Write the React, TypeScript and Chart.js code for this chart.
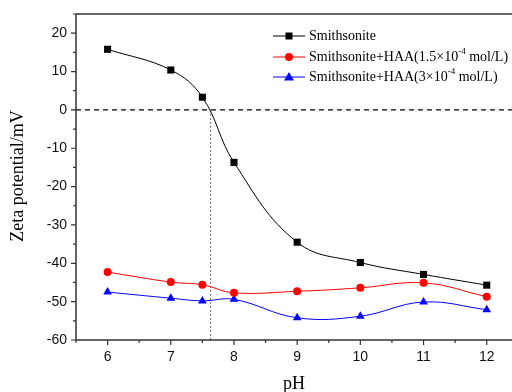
import React, { useEffect, useRef } from "react";
import { Chart, registerables } from "chart.js";

Chart.register(...registerables);

const phValues = [6, 7, 7.5, 8, 9, 10, 11, 12];
const smithsonite = [15.8, 10.4, 3.3, -13.7, -34.5, -39.8, -42.9, -45.7];
const haaLow = [-42.3, -44.9, -45.6, -47.7, -47.3, -46.4, -45.1, -48.7];
const haaHigh = [-47.5, -49.1, -49.8, -49.4, -54.2, -53.8, -50.1, -52.1];
const seriesNames = ["Smithsonite", "Smithsonite+HAA(1.5×10", "Smithsonite+HAA(3×10"];
const seriesColors = ["#000000", "#ff0000", "#0000ff"];
const seriesPoints = ["rect", "circle", "triangle"];
const seriesRadius = [5, 4, 5];
const iepValue = 7.63;
const xTitle = "pH";
const yTitle = "Zeta potential/mV";

const sansFont = '"Liberation Sans", Arial, sans-serif';
const serifFont = '"Liberation Serif", "Times New Roman", serif';

const decoPlugin = {
  id: "deco",
  beforeDatasetsDraw(chart: any) {
    const { ctx, chartArea, scales } = chart;
    const x = scales.x;
    const y = scales.y;
    const y0 = y.getPixelForValue(0);
    ctx.save();
    ctx.strokeStyle = "#000";
    ctx.lineWidth = 1.2;
    ctx.setLineDash([5, 4]);
    ctx.beginPath();
    ctx.moveTo(chartArea.left, y0);
    ctx.lineTo(chartArea.right, y0);
    ctx.stroke();
    const xi = x.getPixelForValue(iepValue);
    ctx.strokeStyle = "#666";
    ctx.lineWidth = 1;
    ctx.setLineDash([2, 2]);
    ctx.beginPath();
    ctx.moveTo(xi, y0);
    ctx.lineTo(xi, chartArea.bottom);
    ctx.stroke();
    ctx.restore();
  },
  afterDraw(chart: any) {
    const { ctx, chartArea, scales } = chart;
    const x = scales.x;
    const y = scales.y;
    ctx.save();
    ctx.strokeStyle = "#333";
    ctx.lineWidth = 1.5;
    ctx.setLineDash([]);
    ctx.beginPath();
    ctx.moveTo(chartArea.left, chartArea.top);
    ctx.lineTo(chartArea.right, chartArea.top);
    ctx.moveTo(chartArea.left, chartArea.top);
    ctx.lineTo(chartArea.left, chartArea.bottom);
    ctx.lineTo(chartArea.right, chartArea.bottom);
    ctx.stroke();
    ctx.lineWidth = 1.2;
    ctx.beginPath();
    x.ticks.forEach((t: any) => {
      const px = x.getPixelForValue(t.value);
      const major = Number.isInteger(t.value);
      ctx.moveTo(px, chartArea.bottom);
      ctx.lineTo(px, chartArea.bottom + (major ? 5 : 3));
    });
    y.ticks.forEach((t: any) => {
      const py = y.getPixelForValue(t.value);
      const major = t.value % 10 === 0;
      ctx.moveTo(chartArea.left, py);
      ctx.lineTo(chartArea.left - (major ? 5 : 3), py);
    });
    ctx.stroke();

    // axis titles
    ctx.fillStyle = "#000";
    ctx.font = `18px ${serifFont}`;
    ctx.textAlign = "center";
    ctx.textBaseline = "middle";
    ctx.fillText(xTitle, 294, 384);
    ctx.save();
    ctx.translate(18, 176);
    ctx.rotate(-Math.PI / 2);
    ctx.fillText(yTitle, 0, 0);
    ctx.restore();

    // legend
    const rows = [36, 57, 77];
    const lx0 = 273;
    const lx1 = 305;
    const tx = 309;
    chart.data.datasets.forEach((ds: any, i: number) => {
      const ry = rows[i];
      ctx.strokeStyle = ds.borderColor;
      ctx.lineWidth = 1;
      ctx.beginPath();
      ctx.moveTo(lx0, ry);
      ctx.lineTo(lx1, ry);
      ctx.stroke();
      ctx.fillStyle = ds.backgroundColor;
      ctx.beginPath();
      const cx = (lx0 + lx1) / 2;
      if (ds.pointStyle === "rect") {
        ctx.rect(cx - 3.5, ry - 3.5, 7, 7);
      } else if (ds.pointStyle === "circle") {
        ctx.arc(cx, ry, 4, 0, Math.PI * 2);
      } else {
        ctx.moveTo(cx, ry - 5);
        ctx.lineTo(cx + 5, ry + 3.5);
        ctx.lineTo(cx - 5, ry + 3.5);
        ctx.closePath();
      }
      ctx.fill();
      ctx.fillStyle = "#000";
      ctx.textAlign = "left";
      ctx.textBaseline = "middle";
      ctx.font = `14px ${serifFont}`;
      ctx.fillText(seriesNames[i], tx, ry);
      if (i > 0) {
        let w = ctx.measureText(seriesNames[i]).width;
        ctx.font = `9px ${serifFont}`;
        ctx.fillText("-4", tx + w, ry - 5);
        w += ctx.measureText("-4").width;
        ctx.font = `14px ${serifFont}`;
        ctx.fillText(" mol/L)", tx + w, ry);
      }
    });
    ctx.restore();
  },
};

export default function App() {
  const ref = useRef<HTMLCanvasElement | null>(null);
  useEffect(() => {
    if (!ref.current) return;
    const mk = (vals: number[]) => phValues.map((p, i) => ({ x: p, y: vals[i] }));
    const all = [smithsonite, haaLow, haaHigh];
    const chart = new Chart(ref.current, {
      type: "line",
      data: {
        datasets: all.map((vals, i) => ({
          label: seriesNames[i],
          data: mk(vals),
          borderColor: seriesColors[i],
          backgroundColor: seriesColors[i],
          pointStyle: seriesPoints[i] as any,
          pointRadius: seriesRadius[i],
          pointBorderWidth: 0,
          borderWidth: 1,
          tension: 0.4,
        })),
      },
      options: {
        animation: false,
        responsive: false,
        maintainAspectRatio: false,
        layout: { autoPadding: false, padding: { top: 14, right: 0, left: 0, bottom: 0 } },
        plugins: { legend: { display: false }, tooltip: { enabled: false } },
        scales: {
          x: {
            type: "linear",
            min: 5.5,
            max: 12.4,
            grid: { display: false, drawTicks: false },
            border: { display: false },
            ticks: {
              stepSize: 0.5,
              includeBounds: false,
              autoSkip: false,
              maxRotation: 0,
              padding: 9,
              color: "#111",
              font: { family: sansFont, size: 14 },
              callback: (v: any) => (Number.isInteger(v) ? String(v) : ""),
            },
            afterFit: (s: any) => {
              s.height = 52;
              s.paddingLeft = 0;
              s.paddingRight = 0;
            },
          },
          y: {
            min: -60,
            max: 25,
            grid: { display: false, drawTicks: false },
            border: { display: false },
            ticks: {
              stepSize: 5,
              includeBounds: false,
              autoSkip: false,
              padding: 9,
              color: "#111",
              font: { family: sansFont, size: 14 },
              callback: (v: any) => (v % 10 === 0 ? String(v) : ""),
            },
            afterFit: (s: any) => {
              s.width = 76;
              s.paddingTop = 0;
              s.paddingBottom = 0;
              s.paddingLeft = 0;
              s.paddingRight = 0;
            },
          },
        },
      },
      plugins: [decoPlugin],
    });
    return () => chart.destroy();
  }, []);
  return (
    <div style={{ position: "fixed", left: 0, top: 0, width: 512, height: 392, background: "#fff" }}>
      <canvas ref={ref} width={512} height={392} style={{ display: "block", width: 512, height: 392 }} />
    </div>
  );
}
